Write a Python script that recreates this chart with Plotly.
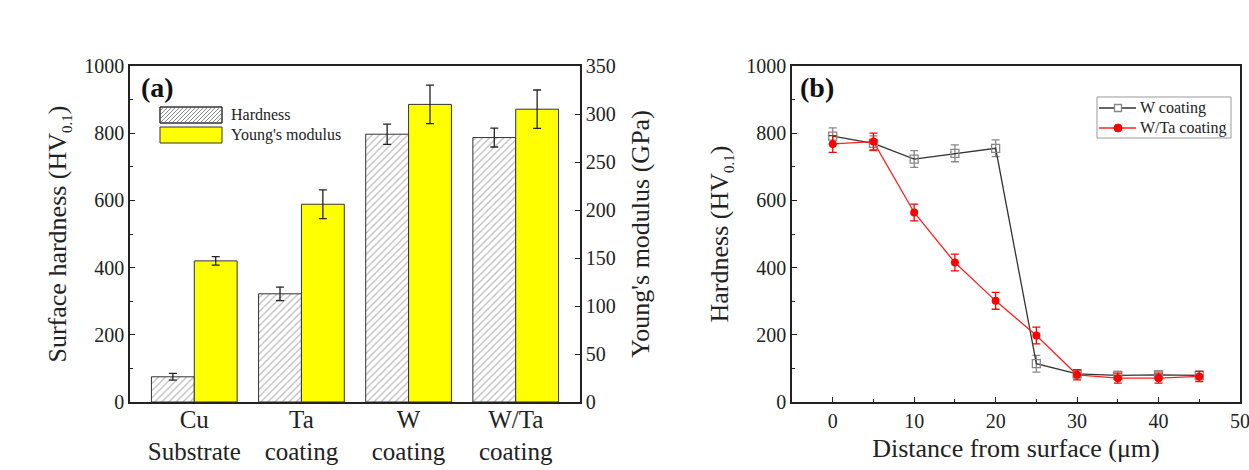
import plotly.graph_objects as go

# ---- Panel (a) data ----
categories = ["Cu<br>Substrate", "Ta<br>coating", "W<br>coating", "W/Ta<br>coating"]
cat_pos = [0, 1, 2, 3]
hardness = [75, 322, 797, 787]
hardness_err = [10, 20, 30, 28]
modulus = [147, 206, 310, 305]
modulus_err = [4.5, 15, 20, 20]

# ---- Panel (b) data ----
distance = [0, 5, 10, 15, 20, 25, 30, 35, 40, 45]
w_hard = [791, 770, 723, 740, 755, 114, 84, 79, 81, 79]
w_err = [25, 22, 25, 25, 25, 25, 12, 12, 12, 12]
wta_hard = [768, 775, 564, 415, 301, 198, 81, 71, 71, 76]
wta_err = [25, 25, 25, 25, 25, 25, 15, 15, 15, 15]
series_names = ["W coating", "W/Ta coating"]

FONT = "Liberation Serif"
W, H = 1249, 470

def px_x(p):
    return p / W

def px_y(p):
    return 1 - p / H

fig = go.Figure()

fig.add_trace(go.Bar(
    x=cat_pos, y=hardness, name="Hardness", xaxis="x", yaxis="y",
    width=0.4, offset=-0.4, showlegend=False,
    marker=dict(color="white", line=dict(color="#333", width=1),
                pattern=dict(shape="/", fgcolor="#777", bgcolor="white", size=5, solidity=0.25)),
    error_y=dict(type="data", array=hardness_err, color="#222", thickness=1.3, width=4),
))
fig.add_trace(go.Bar(
    x=cat_pos, y=modulus, name="Young's modulus", xaxis="x", yaxis="y2",
    width=0.4, offset=0, showlegend=False,
    marker=dict(color="#ffff00", line=dict(color="#333", width=1)),
    error_y=dict(type="data", array=modulus_err, color="#222", thickness=1.3, width=4),
))

fig.add_trace(go.Scatter(
    x=distance, y=w_hard, name=series_names[0], xaxis="x2", yaxis="y3",
    mode="lines+markers", showlegend=False,
    line=dict(color="#333", width=1.3),
    marker=dict(symbol="square-open", color="#888", size=8, line=dict(width=1.3)),
    error_y=dict(type="data", array=w_err, color="#888", thickness=1.3, width=4),
))
fig.add_trace(go.Scatter(
    x=distance, y=wta_hard, name=series_names[1], xaxis="x2", yaxis="y3",
    mode="lines+markers", showlegend=False,
    line=dict(color="#ff2020", width=1.3),
    marker=dict(symbol="circle", color="#ff0000", size=8),
    error_y=dict(type="data", array=wta_err, color="#ff0000", thickness=1.3, width=4),
))

axis_common = dict(showline=True, linecolor="#222", linewidth=1.6, showgrid=False,
                   zeroline=False, tickfont=dict(family=FONT, size=20, color="#222"),
                   ticks="inside", ticklen=5, tickcolor="#222", tickwidth=1.3,
                   automargin=False)

ya = [px_y(402), px_y(66)]
SUB = "<sub><span style='font-size:15px'>0.1</span></sub>"
TFS = 26

# ---- custom legend for panel (a): hatched and yellow swatches ----
shapes = []
lx0, lx1 = 160, 222
hy0, hy1 = 107, 123
my0, my1 = 127, 143
shapes.append(dict(type="rect", xref="paper", yref="paper",
                   x0=px_x(lx0), x1=px_x(lx1), y0=px_y(hy1), y1=px_y(hy0),
                   fillcolor="white", line=dict(color="#333", width=1)))
step = 4
hgt = hy1 - hy0
c = lx0 - hgt
while c < lx1:
    xa, ya_ = c, hy1
    xb, yb = c + hgt, hy0
    if xa < lx0:
        ya_ = hy1 - (lx0 - xa)
        xa = lx0
    if xb > lx1:
        yb = hy0 + (xb - lx1)
        xb = lx1
    if xb > xa + 0.5:
        shapes.append(dict(type="line", xref="paper", yref="paper",
                           x0=px_x(xa + 0.5), y0=px_y(ya_ - 0.5), x1=px_x(xb - 0.5), y1=px_y(yb + 0.5),
                           line=dict(color="#888", width=1)))
    c += step
shapes.append(dict(type="rect", xref="paper", yref="paper",
                   x0=px_x(lx0), x1=px_x(lx1), y0=px_y(hy1), y1=px_y(hy0),
                   line=dict(color="#333", width=1)))
shapes.append(dict(type="rect", xref="paper", yref="paper",
                   x0=px_x(lx0), x1=px_x(lx1), y0=px_y(my1), y1=px_y(my0),
                   fillcolor="#ffff00", line=dict(color="#333", width=1)))

# ---- custom legend for panel (b) ----
bx0, bx1, by0, by1 = 1097, 1231, 97, 138
shapes.append(dict(type="rect", xref="paper", yref="paper",
                   x0=px_x(bx0), x1=px_x(bx1), y0=px_y(by1), y1=px_y(by0),
                   fillcolor="white", line=dict(color="#999", width=1)))
r1, r2 = 108, 128
shapes.append(dict(type="line", xref="paper", yref="paper",
                   x0=px_x(1099), x1=px_x(1136), y0=px_y(r1), y1=px_y(r1),
                   line=dict(color="#333", width=1.3)))
shapes.append(dict(type="rect", xref="paper", yref="paper",
                   x0=px_x(1114.5), x1=px_x(1121.5), y0=px_y(r1 + 3.5), y1=px_y(r1 - 3.5),
                   fillcolor="white", line=dict(color="#888", width=1.3)))
shapes.append(dict(type="line", xref="paper", yref="paper",
                   x0=px_x(1099), x1=px_x(1136), y0=px_y(r2), y1=px_y(r2),
                   line=dict(color="#ff2020", width=1.3)))
shapes.append(dict(type="circle", xref="paper", yref="paper",
                   x0=px_x(1114), x1=px_x(1122), y0=px_y(r2 + 4), y1=px_y(r2 - 4),
                   fillcolor="#ff0000", line=dict(color="#ff0000", width=1)))

fig.update_layout(
    width=W, height=H,
    margin=dict(l=0, r=0, t=0, b=0, autoexpand=False),
    paper_bgcolor="white", plot_bgcolor="white",
    font=dict(family=FONT, color="#222"),
    showlegend=False,
    xaxis=dict(domain=[px_x(130), px_x(580)], range=[-0.6, 3.6], anchor="y",
               tickvals=cat_pos, ticktext=categories, ticks="", mirror=True,
               showline=True, linecolor="#222", linewidth=1.6, showgrid=False, zeroline=False,
               automargin=False, ticklabelstandoff=-6,
               tickfont=dict(family=FONT, size=25, color="#222")),
    yaxis=dict(domain=ya, range=[0, 1000], anchor="x", dtick=200,
               title=dict(text="Surface hardness (HV" + SUB + ")", font=dict(size=TFS, family=FONT), standoff=10),
               minor=dict(ticks="inside", ticklen=3, dtick=100, tickcolor="#222"),
               **axis_common),
    yaxis2=dict(domain=ya, range=[0, 350], anchor="x", overlaying="y", side="right", dtick=50,
                title=dict(text="Young's modulus (GPa)", font=dict(size=TFS, family=FONT), standoff=16),
                **axis_common),
    xaxis2=dict(domain=[px_x(792), px_x(1240)], range=[-5, 50], anchor="y3", dtick=10,
                mirror=True, ticklabeloverflow="allow",
                title=dict(text="Distance from surface (μm)", font=dict(size=TFS, family=FONT), standoff=8),
                minor=dict(ticks="inside", ticklen=3, dtick=5, tickcolor="#222"),
                **axis_common),
    yaxis3=dict(domain=ya, range=[0, 1000], anchor="x2", dtick=200, mirror=True,
                title=dict(text="Hardness (HV" + SUB + ")", font=dict(size=TFS, family=FONT), standoff=10),
                minor=dict(ticks="inside", ticklen=3, dtick=100, tickcolor="#222"),
                **axis_common),
    shapes=shapes,
    annotations=[
        dict(text="<b>(a)</b>", x=px_x(139), y=px_y(87), xref="paper", yref="paper",
             xanchor="left", yanchor="middle", showarrow=False,
             font=dict(family=FONT, size=28, color="#111")),
        dict(text="<b>(b)</b>", x=px_x(798), y=px_y(87), xref="paper", yref="paper",
             xanchor="left", yanchor="middle", showarrow=False,
             font=dict(family=FONT, size=28, color="#111")),
        dict(text="Hardness", x=px_x(229), y=px_y(115), xref="paper", yref="paper",
             xanchor="left", yanchor="middle", showarrow=False,
             font=dict(family=FONT, size=16, color="#222")),
        dict(text="Young's modulus", x=px_x(229), y=px_y(135), xref="paper", yref="paper",
             xanchor="left", yanchor="middle", showarrow=False,
             font=dict(family=FONT, size=16, color="#222")),
        dict(text=series_names[0], x=px_x(1138), y=px_y(r1), xref="paper", yref="paper",
             xanchor="left", yanchor="middle", showarrow=False,
             font=dict(family=FONT, size=16, color="#222")),
        dict(text=series_names[1], x=px_x(1138), y=px_y(r2), xref="paper", yref="paper",
             xanchor="left", yanchor="middle", showarrow=False,
             font=dict(family=FONT, size=16, color="#222")),
    ],
)

fig.write_html("out.html")
